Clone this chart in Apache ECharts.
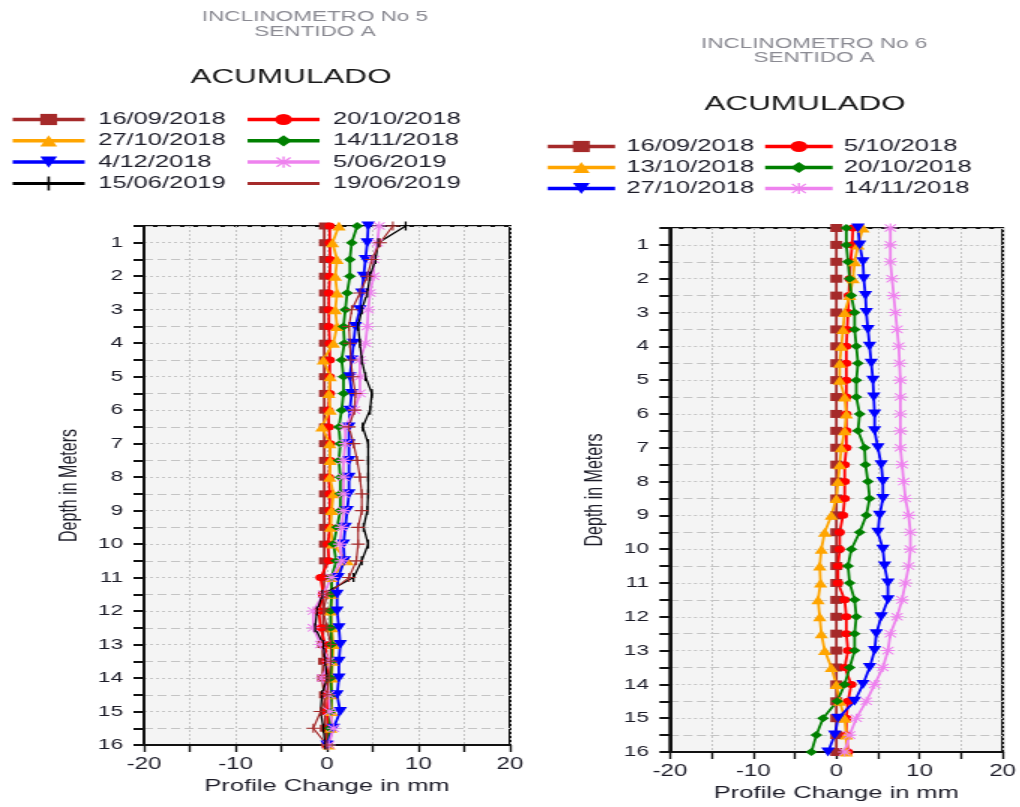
<!DOCTYPE html>
<html>
<head>
<meta charset="utf-8">
<script src="https://cdn.jsdelivr.net/npm/echarts@6/dist/echarts.min.js"></script>
<style>
html, body { margin: 0; padding: 0; background: #fff; width: 1020px; height: 807px; overflow: hidden; }
/* the reference is stretched sideways, so each chart is drawn narrow and scaled */
.chart { position: absolute; top: 0; height: 807px; transform: scaleX(1.5); transform-origin: 0 0; }
#inc5 { left: 0; width: 353px; }
#inc6 { left: 530px; width: 327px; }
</style>
</head>
<body>
<div id="inc5" class="chart"></div>
<div id="inc6" class="chart"></div>
<script>
// depths (m)
const depth = [0.5, 1, 1.5, 2, 2.5, 3, 3.5, 4, 4.5, 5, 5.5, 6, 6.5, 7, 7.5, 8,
  8.5, 9, 9.5, 10, 10.5, 11, 11.5, 12, 12.5, 13, 13.5, 14, 14.5, 15, 15.5, 16];
const xTicks = [-20, -10, 0, 10, 20];

// INCLINOMETRO No 5 - profile change (mm)
const i5_160918 = [-0.3, -0.3, -0.3, -0.3, -0.3, -0.3, -0.3, -0.3, -0.3, -0.3, -0.3, -0.3, -0.3, -0.3, -0.3, -0.3,
  -0.3, -0.3, -0.3, -0.3, -0.3, -0.3, -0.4, -0.4, -0.4, -0.5, -0.4, -0.5, -0.3, -0.2, -0.2, 0];
const i5_201018 = [0.3, 0.3, 0.35, 0.3, 0.2, 0.2, 0.2, 0.3, 0.3, 0.3, 0.3, 0.15, 0.2, 0.35, 0.35, 0.2,
  0.3, 0.3, 0.3, 0.1, 0.2, -0.7, -0.4, -0.9, -0.7, -0.2, 0, 0, 0.1, 0, 0.2, 0];
const i5_271018 = [1.3, 0.6, 1.1, 0.9, 1.1, 0.9, 1.1, 0.7, -0.4, 0.35, 0.2, 0.35, -0.55, 0.3, 0.35, 0.3,
  0.7, 0.5, 0.4, 0.6, 2.2, 0.5, 0.5, 0.4, 0.5, 0.7, 0.6, 0.5, 0.5, 0.5, 0.4, 0.2];
const i5_141118 = [3.3, 2.7, 2.5, 2.5, 2.2, 2.0, 1.8, 1.9, 1.6, 1.8, 1.8, 1.6, 1.3, 1.45, 1.3, 1.45,
  1.45, 1.45, 1.1, 0.7, 1.0, 0.5, 0.5, 0.4, 0.4, 0.5, 0.5, 0.4, 0.5, 0.4, 0.3, 0.1];
const i5_041218 = [4.5, 4.4, 4.2, 4.0, 3.8, 3.6, 3.1, 2.9, 2.7, 2.5, 2.7, 2.5, 2.4, 2.4, 2.4, 2.4,
  2.4, 2.2, 2.0, 1.8, 1.9, 1.2, 1.1, 1.1, 1.3, 1.45, 1.3, 1.3, 1.1, 1.45, 0.7, 0];
const i5_050619 = [5.7, 5.5, 5.1, 5.1, 4.7, 4.5, 4.4, 4.2, 3.6, 3.6, 3.6, 3.0, 2.0, 2.0, 1.8, 1.8,
  1.8, 1.8, 1.6, 1.4, 1.6, 0.5, -0.4, -1.5, -1.5, -0.7, 0.2, -0.5, 0.2, 0.3, 0.7, 0.2];
const i5_150619 = [8.6, 5.6, 5.3, 4.7, 4.4, 3.8, 3.4, 3.6, 3.8, 4.2, 4.9, 4.7, 3.9, 4.5, 4.5, 4.5,
  4.5, 4.4, 4.0, 4.5, 3.8, 2.9, -0.5, -1.1, -1.3, -0.4, -0.2, 0, -0.55, -0.7, -0.4, -0.2];
const i5_190619 = [7.2, 5.8, 4.9, 4.4, 3.6, 2.7, 2.4, 2.5, 2.6, 2.8, 3.1, 3.0, 2.4, 2.9, 3.3, 3.6,
  3.8, 3.8, 3.4, 3.4, 3.2, 2.4, 0, -0.4, 0, 0.4, 0.4, 0.2, 0, -0.7, -1.5, 0];

// INCLINOMETRO No 6 - profile change (mm)
const i6_160918 = [0, 0, 0, 0, 0, 0, 0, 0, 0, 0, 0, 0, 0, 0, 0, 0,
  0, 0, 0, 0, 0, 0, 0, 0, 0, 0, 0, 0, 0, 0, 0, 0];
const i6_051018 = [2.0, 1.9, 1.7, 1.6, 1.5, 1.4, 1.3, 1.2, 1.2, 1.2, 1.2, 1.2, 1.2, 1.2, 1.0, 1.0,
  1.0, 0.8, 0.4, 0.4, 0.2, 0.2, 1.0, 1.2, 1.2, 1.4, 1.0, 1.8, 1.4, 1.2, 1.2, 1.4];
const i6_131018 = [3.2, 2.6, 2.2, 2.0, 1.6, 1.0, 0.8, 0.6, 0.4, 0.4, 1.0, 1.2, 1.0, 0.6, 0.4, 0.2,
  0, -0.6, -1.4, -1.8, -2.0, -1.9, -2.2, -2.0, -1.8, -1.4, -0.6, 0, 0.4, 1.0, 1.2, 1.2];
const i6_201018 = [1.2, 1.2, 1.4, 1.6, 1.8, 2.2, 2.2, 2.4, 2.6, 2.4, 2.4, 2.8, 2.6, 3.4, 3.5, 3.8,
  4.0, 3.6, 2.8, 1.8, 1.4, 1.6, 2.2, 2.4, 2.2, 2.2, 1.6, 1.0, 0.1, -1.6, -2.4, -3.0];
const i6_271018 = [2.6, 2.8, 3.2, 3.3, 3.5, 3.6, 3.8, 4.0, 4.2, 4.4, 4.5, 4.6, 4.6, 5.0, 5.4, 5.6,
  5.6, 5.2, 5.0, 5.6, 5.8, 6.2, 6.2, 5.4, 4.8, 4.6, 4.0, 3.2, 2.2, 0.2, -0.2, -1.0];
const i6_141118 = [6.5, 6.5, 6.5, 6.7, 6.9, 7.1, 7.3, 7.5, 7.6, 7.7, 7.7, 7.7, 7.7, 7.7, 7.9, 8.1,
  8.3, 8.7, 8.9, 8.9, 8.7, 8.3, 7.9, 7.3, 6.5, 6.2, 5.6, 4.6, 3.6, 2.4, 1.6, 1.0];

const FONT = "'Liberation Sans', Arial, sans-serif";
const INK = "#1c1c28";
const GRIDC = "#c4c4c4";
const NONE = "rgba(0,0,0,0)";

// marker shapes
const SYM_DOWN = "path://M0,0L10,0L5,9z";
const SYM_STAR = "path://M4.4,0h1.2v10h-1.2z M0,4.4h10v1.2h-10z M1.3,0.5L9.5,8.7L8.7,9.5L0.5,1.3z M8.7,0.5L9.5,1.3L1.3,9.5L0.5,8.7z";
const SYM_VBAR = "path://M0,0h2v10h-2z";
const SYM_PLUS = "path://M0,4.4h10v1.2h-10z M4.4,0h1.2v10h-1.2z";

function lineIcon(w) {
  return "path://M0,5.5h" + w + "v3h-" + w + "z";
}
function barIcon(w) {
  const c = w / 2 - 0.8;
  return "path://M0,5.5h" + w + "v3h-" + w + "z M" + c + ",0h1.6v14h-1.6z";
}

function mk(name, vals, color, symbol, size, width) {
  return {
    name: name,
    type: "line",
    data: depth.map((d, i) => [vals[i], d]),
    symbol: symbol,
    symbolSize: size,
    itemStyle: { color: color },
    lineStyle: { color: color, width: width },
    emphasis: { disabled: true },
  };
}

function legend(left, top, w, gap, textGap, names) {
  return {
    orient: "vertical",
    left: left,
    top: top,
    padding: 0,
    itemWidth: w,
    itemHeight: 14,
    itemGap: gap,
    selectedMode: false,
    lineStyle: { width: 3.5 },
    textStyle: { fontSize: 17, lineHeight: 14, color: INK, fontFamily: FONT, padding: [0, 0, 0, textGap] },
    data: names,
  };
}

function axes(grid, nameGap) {
  return {
    grid: Object.assign({
      show: true,
      backgroundColor: "#f4f4f4",
      borderColor: "#111",
      borderWidth: 2,
    }, grid),
    xAxis: {
      type: "value",
      min: -20,
      max: 20,
      interval: 5,
      name: "Profile Change in mm",
      nameLocation: "middle",
      nameGap: 33,
      nameTextStyle: { fontSize: 17, color: INK, fontFamily: FONT },
      axisLine: { show: true, onZero: false, lineStyle: { color: "#111", width: 2 } },
      axisTick: { show: true, length: 7, lineStyle: { color: "#111", width: 1.4 } },
      axisLabel: {
        interval: 0, margin: 12, fontSize: 16, color: INK, fontFamily: FONT,
        formatter: (v) => (xTicks.indexOf(v) >= 0 ? String(v) : ""),
      },
      splitLine: { show: true, lineStyle: { type: [2, 2], color: GRIDC, width: 1 } },
    },
    yAxis: [
      {
        type: "value",
        inverse: true,
        min: 0.5,
        max: 16,
        interval: 0.5,
        name: "Depth in Meters",
        nameLocation: "middle",
        nameRotate: 90,
        nameGap: nameGap,
        nameTextStyle: { fontSize: 16, color: INK, fontFamily: FONT },
        axisLine: { show: true, onZero: false, lineStyle: { color: "#111", width: 2 } },
        axisTick: { show: true, interval: 0, length: 7, lineStyle: { color: "#111", width: 2 } },
        axisLabel: {
          interval: 0, margin: 14, fontSize: 15, color: INK, fontFamily: FONT,
          formatter: (v) => (Number.isInteger(v) ? String(v) : ""),
        },
        // dotted lines on whole metres
        splitLine: { show: true, interval: 0, lineStyle: { type: [2, 2], color: [NONE, GRIDC], width: 1 } },
      },
      {
        type: "value",
        inverse: true,
        min: 0.5,
        max: 16,
        interval: 0.5,
        axisLine: { show: false, onZero: false },
        axisTick: { show: false },
        axisLabel: { show: false },
        // dashed lines on half metres
        splitLine: { show: true, interval: 0, lineStyle: { type: [6, 3], color: [GRIDC, NONE], width: 1 } },
      },
    ],
  };
}

// ---------- INCLINOMETRO No 5 ----------
const chart5 = echarts.init(document.getElementById("inc5"));
chart5.setOption(Object.assign({
  animation: false,
  textStyle: { fontFamily: FONT },
  title: [
    {
      text: "INCLINOMETRO No 5\nSENTIDO A",
      left: 210, top: 9, textAlign: "center", padding: 0,
      textStyle: { fontSize: 15, lineHeight: 15, fontWeight: "normal", color: "#8a8a92", fontFamily: FONT },
    },
    {
      text: "ACUMULADO",
      left: 194, top: 66, textAlign: "center", padding: 0,
      textStyle: { fontSize: 21, lineHeight: 22, fontWeight: "normal", color: "#1a1a1a", fontFamily: FONT },
    },
  ],
  legend: [
    legend(6.7, 111, 48, 4.3, 4, ["16/09/2018", "27/10/2018", "4/12/2018",
      { name: "15/06/2019", icon: barIcon(48) }]),
    legend(163.3, 111, 48, 4.3, 4, ["20/10/2018", "14/11/2018", "5/06/2019",
      { name: "19/06/2019", icon: lineIcon(48) }]),
  ],
  series: [
    mk("16/09/2018", i5_160918, "#a52a2a", "rect", 7, 1.8),
    mk("20/10/2018", i5_201018, "#ff0000", "circle", 7, 1.8),
    mk("27/10/2018", i5_271018, "#ffa500", "triangle", 9, 1.8),
    mk("14/11/2018", i5_141118, "#008000", "diamond", 8, 1.8),
    mk("4/12/2018", i5_041218, "#0000ff", SYM_DOWN, 9, 1.8),
    mk("5/06/2019", i5_050619, "#ee82ee", SYM_STAR, 9, 1.8),
    mk("15/06/2019", i5_150619, "#000000", SYM_VBAR, [1.3, 9], 1.3),
    mk("19/06/2019", i5_190619, "#a52a2a", SYM_PLUS, 9, 1.2),
  ],
}, axes({ left: 96, top: 226, width: 244, height: 519 }, 41)));

// ---------- INCLINOMETRO No 6 ----------
const chart6 = echarts.init(document.getElementById("inc6"));
chart6.setOption(Object.assign({
  animation: false,
  textStyle: { fontFamily: FONT },
  title: [
    {
      text: "INCLINOMETRO No 6\nSENTIDO A",
      left: 189.4, top: 36.5, textAlign: "center", padding: 0,
      textStyle: { fontSize: 15, lineHeight: 14, fontWeight: "normal", color: "#8a8a92", fontFamily: FONT },
    },
    {
      text: "ACUMULADO",
      left: 183.3, top: 93, textAlign: "center", padding: 0,
      textStyle: { fontSize: 21, lineHeight: 22, fontWeight: "normal", color: "#1a1a1a", fontFamily: FONT },
    },
  ],
  legend: [
    legend(10, 138, 45, 4, 2.5, ["16/09/2018", "13/10/2018", "27/10/2018"]),
    legend(155, 138, 45, 4, 2.5, ["5/10/2018", "20/10/2018", "14/11/2018"]),
  ],
  series: [
    mk("16/09/2018", i6_160918, "#a52a2a", "rect", 8, 1.8),
    mk("5/10/2018", i6_051018, "#ff0000", "circle", 7, 1.8),
    mk("13/10/2018", i6_131018, "#ffa500", "triangle", 9, 1.8),
    mk("20/10/2018", i6_201018, "#008000", "diamond", 8, 1.8),
    mk("27/10/2018", i6_271018, "#0000ff", SYM_DOWN, 9, 1.8),
    mk("14/11/2018", i6_141118, "#ee82ee", SYM_STAR, 9, 1.8),
  ],
}, axes({ left: 93.3, top: 228, width: 224, height: 527 }, 34)));
</script>
</body>
</html>
